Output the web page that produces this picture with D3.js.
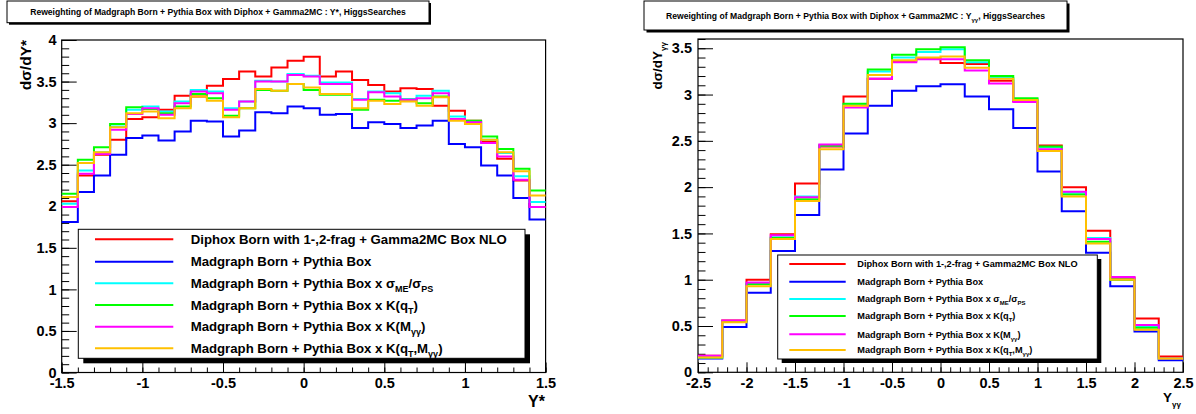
<!DOCTYPE html>
<html>
<head>
<meta charset="utf-8">
<script src="https://cdn.jsdelivr.net/npm/d3@7"></script>
<style>
html,body{margin:0;padding:0;background:#fff;}
svg{display:block;}
</style>
</head>
<body>
<svg id="c" width="1196" height="414"></svg>
<script>
// ---------- DATA ----------
const seriesColors = ["#ff0000", "#0000ff", "#00ffff", "#00ff00", "#ff00ff", "#ffc000"];

// Left panel: d sigma / dY*, 30 bins from -1.5 to 1.5
const leftRange = [-1.5, 1.5];
const leftNBins = 30;
const leftRed     = [2.06,2.37,2.62,2.80,3.05,3.07,3.16,3.33,3.32,3.45,3.53,3.62,3.56,3.67,3.75,3.80,3.56,3.62,3.52,3.46,3.38,3.42,3.41,3.21,3.15,3.03,2.78,2.57,2.31,1.99];
const leftBlue    = [1.81,2.17,2.37,2.62,2.82,2.85,2.79,2.90,3.03,3.02,2.84,2.91,3.13,3.12,3.20,3.18,3.10,3.11,2.94,3.01,2.99,2.94,2.97,3.03,2.75,2.71,2.49,2.37,2.10,1.84];
const leftCyan    = [2.03,2.43,2.65,2.96,3.16,3.20,3.14,3.26,3.40,3.38,3.18,3.26,3.51,3.50,3.59,3.57,3.49,3.49,3.29,3.38,3.36,3.29,3.33,3.39,3.08,3.02,2.80,2.64,2.36,2.05];
const leftGreen   = [2.15,2.56,2.71,2.99,3.19,3.17,3.12,3.20,3.35,3.30,3.09,3.18,3.40,3.39,3.47,3.40,3.34,3.34,3.16,3.28,3.27,3.28,3.24,3.32,3.04,3.03,2.84,2.69,2.45,2.19];
const leftMagenta = [1.99,2.39,2.63,2.92,3.11,3.18,3.10,3.24,3.38,3.36,3.16,3.26,3.50,3.50,3.58,3.56,3.47,3.47,3.28,3.37,3.32,3.28,3.30,3.36,3.05,3.01,2.76,2.60,2.32,1.99];
const leftOrange  = [2.11,2.52,2.65,2.95,3.12,3.14,3.06,3.18,3.32,3.27,3.07,3.18,3.41,3.39,3.47,3.43,3.35,3.35,3.18,3.27,3.23,3.26,3.21,3.31,3.03,2.99,2.80,2.65,2.42,2.13];

// Right panel: d sigma / dY_gg, 20 bins from -2.5 to 2.5
const rightRange = [-2.5, 2.5];
const rightNBins = 20;
const rightRed     = [0.18,0.56,1.00,1.49,2.04,2.44,2.98,3.17,3.36,3.39,3.34,3.33,3.15,2.93,2.45,2.00,1.53,1.02,0.58,0.17];
const rightBlue    = [0.15,0.49,0.86,1.31,1.70,2.19,2.58,2.88,3.04,3.09,3.11,2.98,2.84,2.64,2.17,1.74,1.29,0.93,0.44,0.13];
const rightCyan    = [0.16,0.55,0.96,1.46,1.90,2.45,2.89,3.25,3.40,3.46,3.49,3.35,3.18,2.95,2.43,1.94,1.45,1.00,0.49,0.15];
const rightGreen   = [0.16,0.55,0.95,1.45,1.87,2.45,2.90,3.27,3.43,3.49,3.51,3.37,3.20,2.96,2.44,1.92,1.41,1.00,0.48,0.15];
const rightMagenta = [0.18,0.56,0.97,1.48,1.89,2.46,2.86,3.17,3.35,3.38,3.38,3.26,3.12,2.92,2.41,1.95,1.44,1.03,0.51,0.15];
const rightOrange  = [0.16,0.54,0.93,1.44,1.85,2.41,2.88,3.21,3.37,3.40,3.41,3.29,3.17,2.94,2.39,1.90,1.39,1.00,0.46,0.15];

// Ticks
const leftXTicks  = [-1.5,-1,-0.5,0,0.5,1,1.5];
const leftYTicks  = [0,0.5,1,1.5,2,2.5,3,3.5,4];
const rightXTicks = [-2.5,-2,-1.5,-1,-0.5,0,0.5,1,1.5,2,2.5];
const rightYTicks = [0,0.5,1,1.5,2,2.5,3,3.5];
const minorStep = 0.1;

// Texts  (parts: [text, isSubscript])
const legendLabels = [
  [["Diphox Born with 1-,2-frag + Gamma2MC Box NLO"]],
  [["Madgraph Born + Pythia Box"]],
  [["Madgraph Born + Pythia Box x σ"],["ME",1],["/σ"],["PS",1]],
  [["Madgraph Born + Pythia Box x K(q"],["T",1],[")"]],
  [["Madgraph Born + Pythia Box x K(M"],["γγ",1],[")"]],
  [["Madgraph Born + Pythia Box x K(q"],["T",1],[",M"],["γγ",1],[")"]]
];
const leftTitle  = [["Reweighting of Madgraph Born + Pythia Box with Diphox + Gamma2MC : Y*, HiggsSearches"]];
const rightTitle = [["Reweighting of Madgraph Born + Pythia Box with Diphox + Gamma2MC : Y"],["γγ",1],[", HiggsSearches"]];
const leftYLabel  = [["dσ/dY*"]];
const rightYLabel = [["dσ/dY"],["γγ",1]];
const leftXLabel  = [["Y*"]];
const rightXLabel = [["Y"],["γγ",1]];

// ---------- DRAWING ----------
const FONT = "'Liberation Sans', Arial, Helvetica, sans-serif";
const svg = d3.select("#c");

function richText(g, parts, size, subSize, shift) {
  const t = g.append("text").attr("font-family", FONT).attr("font-weight", "bold")
    .attr("font-size", size).attr("fill", "#000");
  let prevSub = false;
  parts.forEach(p => {
    const sub = !!p[1];
    const ts = t.append("tspan").text(p[0]).attr("font-size", sub ? subSize : size);
    if (sub && !prevSub) ts.attr("dy", shift);
    if (!sub && prevSub) ts.attr("dy", -shift);
    prevSub = sub;
  });
  return t;
}

function panel(cfg) {
  const g = svg.append("g");
  const x = d3.scaleLinear().domain(cfg.xdom).range([cfg.x0, cfg.x1]);
  const y = d3.scaleLinear().domain(cfg.ydom).range([cfg.y1, cfg.y0]);
  const pw = cfg.x1 - cfg.x0, ph = cfg.y1 - cfg.y0;

  // frame
  g.append("rect").attr("x", cfg.x0).attr("y", cfg.y0).attr("width", pw).attr("height", ph)
    .attr("fill", "none").attr("stroke", "#000").attr("stroke-width", 1.2);

  // axes
  const minorX = d3.range(cfg.xdom[0], cfg.xdom[1] + 1e-9, minorStep).map(v => +v.toFixed(3));
  const minorY = d3.range(cfg.ydom[0], cfg.ydom[1] + 1e-9, minorStep).map(v => +v.toFixed(3));
  const fmt = d => String(d);

  const gxm = g.append("g").attr("transform", `translate(0,${cfg.y1})`)
    .call(d3.axisBottom(x).tickValues(minorX).tickSize(-5).tickFormat(""));
  const gx = g.append("g").attr("transform", `translate(0,${cfg.y1})`)
    .call(d3.axisBottom(x).tickValues(cfg.xticks).tickSize(-10).tickPadding(5).tickFormat(fmt));
  const gym = g.append("g").attr("transform", `translate(${cfg.x0},0)`)
    .call(d3.axisLeft(y).tickValues(minorY).tickSize(-7.5).tickFormat(""));
  const gy = g.append("g").attr("transform", `translate(${cfg.x0},0)`)
    .call(d3.axisLeft(y).tickValues(cfg.yticks).tickSize(-15).tickPadding(cfg.ypad).tickFormat(fmt));
  [gxm, gx, gym, gy].forEach(a => {
    a.select(".domain").remove();
    a.selectAll("line").attr("stroke", "#000").attr("stroke-width", 1);
    a.selectAll("text").attr("font-family", FONT).attr("font-weight", "bold")
      .attr("font-size", 14.5).attr("fill", "#000");
  });

  // histograms
  const n = cfg.nBins;
  const bw = (cfg.xdom[1] - cfg.xdom[0]) / n;
  const line = d3.line().x(d => x(d[0])).y(d => y(d[1]));
  cfg.series.forEach((vals, si) => {
    const pts = [];
    vals.forEach((v, i) => {
      const lo = cfg.xdom[0] + i * bw, hi = lo + bw;
      pts.push([lo, v], [hi, v]);
    });
    g.append("path").attr("d", line(pts)).attr("fill", "none")
      .attr("stroke", seriesColors[si]).attr("stroke-width", 2).attr("stroke-linejoin", "miter");
  });

  // title box
  const tb = cfg.titleBox;
  g.append("rect").attr("x", tb.x + tb.sh).attr("y", tb.y + tb.sh).attr("width", tb.w).attr("height", tb.h).attr("fill", "#000");
  g.append("rect").attr("x", tb.x).attr("y", tb.y).attr("width", tb.w).attr("height", tb.h)
    .attr("fill", "#fff").attr("stroke", "#000").attr("stroke-width", 1);
  richText(g, cfg.title, 8.6, 6, 2.5).attr("x", tb.x + tb.w / 2).attr("y", tb.ty).attr("text-anchor", "middle");

  // axis titles
  richText(g, cfg.ylabel, cfg.ylabSize, cfg.ylabSub, 3.5)
    .attr("text-anchor", "end").attr("transform", `translate(${cfg.ylx},${cfg.yly}) rotate(-90)`);
  richText(g, cfg.xlabel, cfg.xlabSize, cfg.xlabSub, 5)
    .attr("text-anchor", "end").attr("x", cfg.xlx).attr("y", cfg.xly);

  // legend
  const L = cfg.legend;
  g.append("rect").attr("x", L.x + L.sh).attr("y", L.y + L.sh).attr("width", L.w).attr("height", L.h).attr("fill", "#000");
  g.append("rect").attr("x", L.x).attr("y", L.y).attr("width", L.w).attr("height", L.h)
    .attr("fill", "#fff").attr("stroke", "#000").attr("stroke-width", 1);
  legendLabels.forEach((parts, i) => {
    const ly = L.rows[i];
    g.append("line").attr("x1", L.lx0).attr("x2", L.lx1).attr("y1", ly).attr("y2", ly)
      .attr("stroke", seriesColors[i]).attr("stroke-width", 2);
    richText(g, parts, L.fs, L.fsSub, L.subShift).attr("x", L.tx).attr("y", ly + L.fs * 0.36);
  });
}

panel({
  x0: 61.7, x1: 545.6, y0: 40, y1: 372.5,
  xdom: leftRange, ydom: [0, 4], nBins: leftNBins,
  xticks: leftXTicks, yticks: leftYTicks, ypad: 5,
  series: [leftRed, leftBlue, leftCyan, leftGreen, leftMagenta, leftOrange],
  titleBox: {x: 7, y: 1, w: 422, h: 21.7, sh: 2, ty: 14.5},
  title: leftTitle,
  ylabel: leftYLabel, ylabSize: 15.5, ylabSub: 10, ylx: 30.5, yly: 40,
  xlabel: leftXLabel, xlabSize: 16, xlabSub: 10, xlx: 545, xly: 407,
  legend: {x: 78.3, y: 229.3, w: 446.7, h: 129, sh: 5,
    rows: [239.3, 261.7, 283.3, 305, 326.7, 348.3],
    lx0: 95, lx1: 173.3, tx: 190.7, fs: 13.2, fsSub: 9, subShift: 4}
});

panel({
  x0: 698, x1: 1183, y0: 39, y1: 372.3,
  xdom: rightRange, ydom: [0, 3.6], nBins: rightNBins,
  xticks: rightXTicks, yticks: rightYTicks, ypad: 6,
  series: [rightRed, rightBlue, rightCyan, rightGreen, rightMagenta, rightOrange],
  titleBox: {x: 644, y: 1, w: 423, h: 29, sh: 2.5, ty: 19},
  title: rightTitle,
  ylabel: rightYLabel, ylabSize: 13.5, ylabSub: 8, ylx: 662, yly: 42,
  xlabel: rightXLabel, xlabSize: 13.5, xlabSub: 8, xlx: 1181, xly: 402,
  legend: {x: 777.7, y: 255, w: 319.6, h: 104, sh: 4,
    rows: [264, 281.7, 299, 316, 334.3, 350],
    lx0: 789.3, lx1: 845.7, tx: 857.3, fs: 9.2, fsSub: 6, subShift: 3}
});
</script>
</body>
</html>
